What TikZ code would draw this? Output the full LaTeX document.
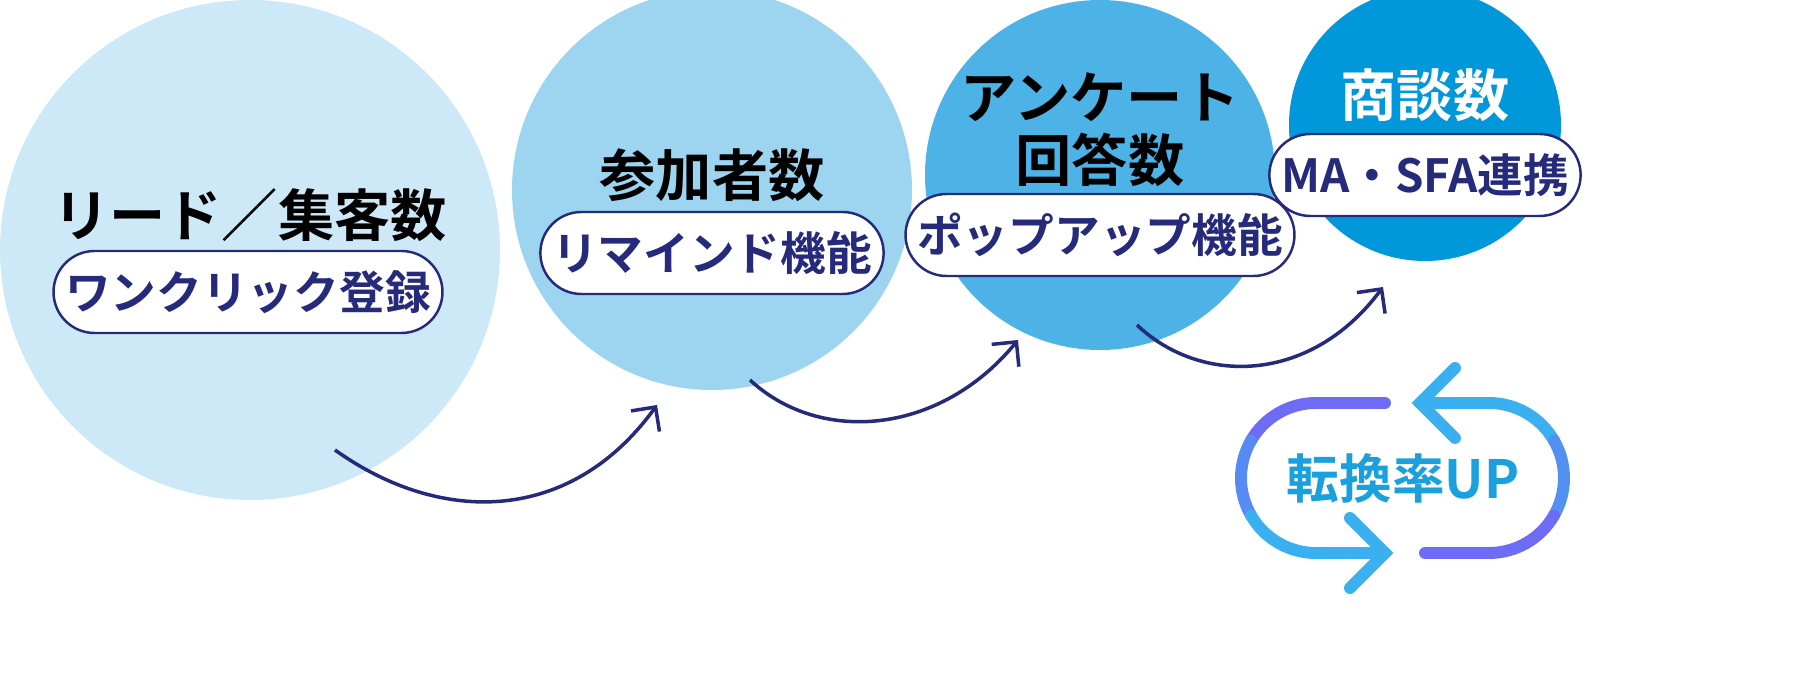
\documentclass[tikz,border=0pt]{standalone}
\usepackage{fontspec}
\newfontfamily\jp{Noto Sans CJK JP}[BoldFont={* Bold}]
\usetikzlibrary{arrows.meta,calc}
\definecolor{cA}{HTML}{CDE9F7}
\definecolor{cB}{HTML}{9DD5F0}
\definecolor{cC}{HTML}{4DB3E6}
\definecolor{cD}{HTML}{0098DA}
\definecolor{navy}{HTML}{262A7B}
\definecolor{purp}{HTML}{6E6CF5}
\definecolor{blu}{HTML}{3BB0F0}
\definecolor{txtb}{HTML}{1AA0DC}
\tikzset{
 bub/.style={circle,inner sep=0pt,outer sep=0pt},
 ttl/.style={font=\jp\bfseries\fontsize{16}{20}\selectfont,text=black,align=center},
 pill/.style={draw=navy,line width=0.7pt,fill=white,rounded corners=0.41cm,minimum height=0.82cm,font=\jp\bfseries\fontsize{13}{15}\selectfont,text=navy},
 flow/.style={draw=navy,line width=1pt,-{Straight Barb[length=5pt,width=10pt,line width=1pt]}},
 cyc/.style={line width=3.4pt,line cap=round}
}
\begin{document}
\begin{tikzpicture}
\useasboundingbox (0,0) rectangle (18,6.75);
\begin{scope}
\clip (0,0) rectangle (18,6.75);
\node[bub,fill=cA,minimum size=5cm] (c1) at (2.5,4.25) {};
\node[bub,fill=cB,minimum size=4cm] (c2) at (7.12,4.85) {};
\node[bub,fill=cC,minimum size=3.5cm] (c3) at (11.0,5.0) {};
\node[bub,fill=cD,minimum size=2.72cm] (c4) at (14.25,5.5) {};
\end{scope}
\node[ttl] (t1) at (2.5,4.6) {リード／集客数};
\node[pill,minimum width=3.4cm] (p1) at (2.48,3.83) {ワンクリック登録};
\node[ttl] (t2) at (7.12,5.0) {参加者数};
\node[pill,minimum width=3.1cm] (p2) at (7.12,4.22) {リマインド機能};
\node[ttl] (t3) at (11.0,5.45) {アンケート\\[-2pt]回答数};
\node[pill,minimum width=3.3cm] (p3) at (11.0,4.4) {ポップアップ機能};
\node[ttl,text=white] (t4) at (14.25,5.8) {商談数};
\node[pill,minimum width=2.35cm] (p4) at (14.25,5.0) {MA・SFA連携};
\coordinate (a1s) at (3.35,2.25); \coordinate (a1e) at (6.57,2.70);
\coordinate (a2s) at (7.50,2.95); \coordinate (a2e) at (10.18,3.35);
\coordinate (a3s) at (11.37,3.50); \coordinate (a3e) at (13.83,3.88);
\draw[flow] (a1s) .. controls (4.4,1.5) and (5.7,1.5) .. (a1e);
\draw[flow] (a2s) .. controls (8.2,2.3) and (9.4,2.4) .. (a2e);
\draw[flow] (a3s) .. controls (12.0,2.9) and (13.1,2.9) .. (a3e);
\coordinate (L) at (13.16,1.97);
\coordinate (R) at (14.89,1.97);
\draw[cyc,purp] (13.85,2.72) -- ($(L)+(90:0.75)$) arc[start angle=90,end angle=150,radius=0.75];
\draw[cyc,purp!55!blu] ($(L)+(150:0.75)$) arc[start angle=150,end angle=210,radius=0.75];
\draw[cyc,blu] ($(L)+(210:0.75)$) arc[start angle=210,end angle=270,radius=0.75] -- (13.85,1.22);
\draw[cyc,blu] (13.5,1.57) -- (13.85,1.22) -- (13.5,0.87);
\draw[cyc,blu] (14.2,2.72) -- ($(R)+(90:0.75)$) arc[start angle=90,end angle=30,radius=0.75];
\draw[cyc,blu!55!purp] ($(R)+(30:0.75)$) arc[start angle=30,end angle=-30,radius=0.75];
\draw[cyc,purp] ($(R)+(-30:0.75)$) arc[start angle=-30,end angle=-90,radius=0.75] -- (14.25,1.22);
\draw[cyc,blu] (14.55,3.07) -- (14.2,2.72) -- (14.55,2.37);
\node[font=\jp\bfseries\fontsize{15}{18}\selectfont,text=txtb] (up) at (14.03,1.97) {転換率UP};
\end{tikzpicture}
\end{document}
